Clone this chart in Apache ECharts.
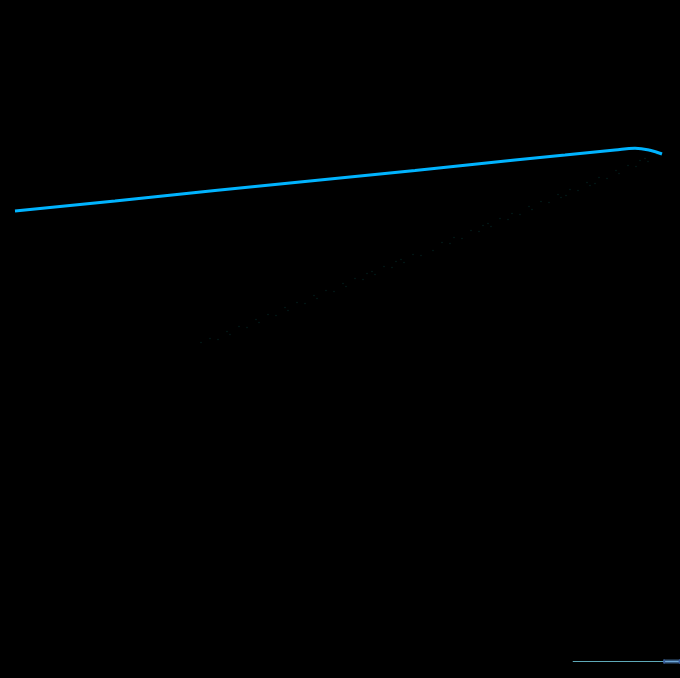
<!DOCTYPE html>
<html>
<head>
<meta charset="utf-8">
<script src="https://cdn.jsdelivr.net/npm/echarts@6/dist/echarts.min.js"></script>
<style>
html,body{margin:0;padding:0;background:#000;}
#chart{width:680px;height:678px;}
</style>
</head>
<body>
<div id="chart"></div>
<script>
// Main trend line (x, value)
const lineX = [0, 10, 20, 30, 40, 50, 55, 60, 62, 63.5, 64.7];
const lineY = [73.4, 75.4, 77.5, 79.5, 81.5, 83.6, 84.6, 85.6, 85.95, 85.55, 84.8];

// Faint scattered observations (x, value)
const dotX = [18.6,19.5,20.3,21.2,21.5,22.4,23.2,24.1,24.4,25.3,26.1,27.0,27.3,28.2,29.0,29.9,30.2,31.1,31.9,32.8,33.1,34.0,34.8,35.2,35.7,36.0,36.9,37.7,38.1,38.6,38.9,39.8,40.6,41.8,42.7,43.5,43.9,44.7,45.6,46.4,46.8,47.3,47.6,48.5,49.3,49.7,50.5,51.4,51.7,52.6,53.4,54.3,54.6,55.1,55.5,56.3,57.2,57.5,58.0,58.4,59.2,60.1,60.4,61.3,62.1,62.5,63.0,63.3,64.2];
const dotY = [47.1,47.9,47.7,49.3,48.7,50.3,50.1,51.7,51.1,52.7,52.5,54.1,53.5,55.1,54.9,56.5,55.9,57.5,57.3,58.9,58.3,59.9,59.7,60.9,61.3,60.7,62.3,62.1,63.3,63.7,63.1,64.7,64.5,65.5,67.1,66.9,68.1,67.9,69.5,69.3,70.5,70.9,70.3,71.9,71.7,72.9,72.7,74.3,73.7,75.3,75.1,76.7,76.1,76.5,77.7,77.5,79.1,78.5,78.9,80.1,79.9,81.5,80.9,82.5,82.3,83.5,83.9,83.3,84.8];

// Overview (slider) window
const zoomStart = 84;
const zoomEnd = 100;

const lineData = lineX.map((x, i) => [x, lineY[i]]);
const dotData = dotX.map((x, i) => [x, dotY[i]]);
const overviewData = [[0, 50], [65, 50]];

const chart = echarts.init(document.getElementById('chart'));
chart.setOption({
  backgroundColor: '#000000',
  animation: false,
  grid: { left: 15, right: 15, top: 78, bottom: 100 },
  xAxis: [
    { type: 'value', min: 0, max: 65, show: false },
    { type: 'value', min: 0, max: 65, show: false, gridIndex: 0 }
  ],
  yAxis: [
    { type: 'value', min: 0, max: 100, show: false }
  ],
  dataZoom: [{
    type: 'slider',
    xAxisIndex: 1,
    start: zoomStart,
    end: zoomEnd,
    left: 570,
    right: 2,
    top: 659,
    height: 4,
    showDetail: false,
    brushSelect: false,
    moveHandleSize: 0,
    handleSize: '100%',
    showDataShadow: true,
    backgroundColor: 'transparent',
    borderColor: 'transparent',
    fillerColor: 'rgba(90,150,215,0.6)',
    handleStyle: { color: '#1c3570', borderColor: '#3b5fa3', borderWidth: 1 },
    dataBackground: {
      lineStyle: { color: '#5ea9b8', width: 1.2, opacity: 1 },
      areaStyle: { opacity: 0 }
    },
    selectedDataBackground: {
      lineStyle: { color: '#8cc4dc', width: 1.2 },
      areaStyle: { opacity: 0 }
    }
  }],
  series: [
    {
      type: 'line',
      name: 'overview',
      xAxisIndex: 1,
      data: overviewData,
      symbol: 'none',
      lineStyle: { opacity: 0 },
      silent: true
    },
    {
      type: 'scatter',
      name: 'observations',
      xAxisIndex: 0,
      data: dotData,
      symbol: 'circle',
      symbolSize: 1.6,
      itemStyle: { color: 'rgba(20,150,140,0.25)' },
      silent: true
    },
    {
      type: 'line',
      name: 'trend',
      xAxisIndex: 0,
      data: lineData,
      smooth: 0.4,
      symbol: 'none',
      lineStyle: { color: '#00b4ff', width: 3 },
      silent: true
    }
  ]
});
</script>
</body>
</html>
